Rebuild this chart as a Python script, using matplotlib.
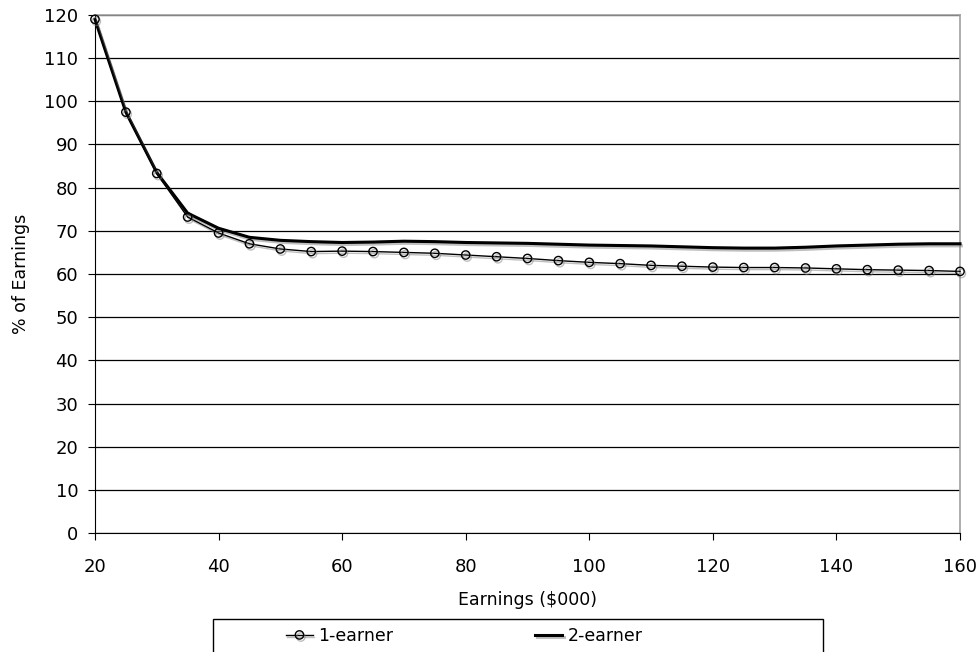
import matplotlib
matplotlib.use("Agg")
import matplotlib.pyplot as plt
import matplotlib.patheffects as pe
from matplotlib.patches import Rectangle

# Earnings in $000
earnings = [20, 25, 30, 35, 40, 45, 50, 55, 60, 65, 70, 75, 80, 85, 90, 95,
            100, 105, 110, 115, 120, 125, 130, 135, 140, 145, 150, 155, 160]

# % of earnings
one_earner = [119.0, 97.5, 83.3, 73.2, 69.5, 67.0, 65.8, 65.2, 65.3, 65.2, 65.0,
              64.8, 64.4, 64.0, 63.6, 63.1, 62.7, 62.4, 62.0, 61.8, 61.6, 61.5,
              61.5, 61.4, 61.2, 61.0, 60.9, 60.8, 60.6]
two_earner = [119.0, 97.5, 83.5, 74.1, 70.6, 68.5, 67.8, 67.5, 67.3, 67.4, 67.6,
              67.5, 67.3, 67.2, 67.1, 66.9, 66.7, 66.6, 66.5, 66.3, 66.1, 66.0,
              66.0, 66.2, 66.5, 66.7, 66.9, 67.0, 67.0]

plt.rcParams['font.family'] = ['DejaVu Sans']

fig = plt.figure(figsize=(9.79, 6.52), dpi=100)
ax = fig.add_axes([0.097, 0.1825, 0.8836, 0.7945])

shadow = [pe.SimpleLineShadow(offset=(1, -1.5), shadow_color='gray', alpha=0.5), pe.Normal()]

ax.plot(earnings, one_earner, color='black', lw=1.0, marker='o', markersize=6,
        markerfacecolor='none', markeredgecolor='black', markeredgewidth=1.0,
        label='1-earner', path_effects=shadow, clip_on=False, zorder=4)
ax.plot(earnings, two_earner, color='black', lw=2.2, label='2-earner',
        path_effects=shadow, clip_on=False, zorder=3)

ax.set_xlim(20, 160)
ax.set_ylim(0, 120)
ax.set_xticks(range(20, 161, 20))
ax.set_yticks(range(0, 121, 10))
ax.yaxis.grid(True, color='black', lw=0.9)
ax.set_axisbelow(True)

for side in ['top', 'right']:
    ax.spines[side].set_color('#a0a0a0')
    ax.spines[side].set_linewidth(1.2)
ax.spines['left'].set_color('black')
ax.spines['bottom'].set_color('black')

ax.tick_params(axis='both', labelsize=13, length=5, color='black')
ax.tick_params(axis='y', pad=7)
ax.tick_params(axis='x', pad=13)
ax.set_xlabel('Earnings ($000)', fontsize=12.5, labelpad=11)
ax.set_ylabel('% of Earnings', fontsize=12.5, labelpad=10)

# legend box runs off the bottom of the figure, as in the original
fig.patches.append(Rectangle((213 / 979, -0.05), 610 / 979, 0.05 + 33 / 652,
                             transform=fig.transFigure, fill=False,
                             edgecolor='black', lw=1.0))
fig.legend(loc='center left', bbox_to_anchor=(286 / 979, 1 - 636 / 652),
           ncol=2, frameon=False, fontsize=12.5, borderpad=0, borderaxespad=0,
           handlelength=1.55, handletextpad=0.3, columnspacing=8.2)

fig.savefig('out.png', dpi=100)
